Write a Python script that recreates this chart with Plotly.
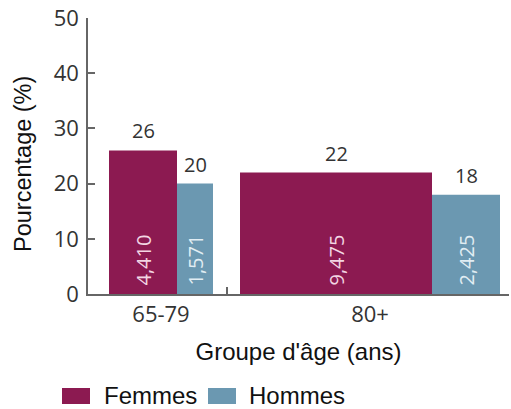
import plotly.graph_objects as go

# ---- data ----
groups = ["65-79", "80+"]
series = ["Femmes", "Hommes"]
femmes_pct = [26, 22]
hommes_pct = [20, 18]
femmes_n = ["4,410", "9,475"]
hommes_n = ["1,571", "2,425"]

# ---- layout / style (x axis units = plot pixels) ----
W, H = 511, 409
ML, MR, MT, MB = 88, 2, 18, 115
lead_gap = 21
group_gap = 27
femmes_w = [68, 192]
hommes_w = [36, 68]
x_end = W - ML - MR

col_f = "#8c1a51"
col_h = "#6b98b1"
txt_f = "#f3d6e3"
txt_h = "#e1edf3"
axis_col = "#666666"
txt_col = "#333333"
dark = "#111111"
arial = "Liberation Sans, Arial"
humanist = "Open Sans"

pw, ph = W - ML - MR, H - MT - MB


def px_x(p):
    return (p - ML) / pw


def px_y(p):
    return (H - MB - p) / ph


# bar positions from widths
f_x, h_x, g_x, dividers = [], [], [], []
cur = lead_gap
for fw, hw in zip(femmes_w, hommes_w):
    f_x.append(cur + fw / 2)
    h_x.append(cur + fw + hw / 2)
    g_x.append(cur + (fw + hw) / 2)
    cur += fw + hw
    dividers.append(cur + group_gap / 2)
    cur += group_gap
dividers = dividers[:-1]

fig = go.Figure()
fig.add_trace(go.Bar(name=series[0], x=f_x, y=femmes_pct, width=femmes_w,
                     marker=dict(color=col_f, line=dict(width=0)),
                     showlegend=False))
fig.add_trace(go.Bar(name=series[1], x=h_x, y=hommes_pct, width=hommes_w,
                     marker=dict(color=col_h, line=dict(width=0)),
                     showlegend=False))

annotations = []
# percentage labels above bars
for xs, vals in ((f_x, femmes_pct), (h_x, hommes_pct)):
    for x, v in zip(xs, vals):
        annotations.append(dict(x=x, y=v, xref="x", yref="y", text=str(v),
                                showarrow=False, yanchor="bottom", yshift=4,
                                font=dict(family=humanist, size=20, color=txt_col)))
# counts inside bars (rotated)
for xs, ns, c in ((f_x, femmes_n, txt_f), (h_x, hommes_n, txt_h)):
    for x, n in zip(xs, ns):
        annotations.append(dict(x=x, y=0, xref="x", yref="y", text=n,
                                showarrow=False, textangle=-90,
                                yanchor="bottom", yshift=6,
                                font=dict(family=humanist, size=20, color=c)))
# y axis title
annotations.append(dict(x=px_x(23), y=px_y(164), xref="paper", yref="paper",
                        text="Pourcentage (%)", textangle=-90, showarrow=False,
                        xanchor="center", yanchor="middle",
                        font=dict(family=arial, size=23.5, color=dark)))

# custom legend
shapes = []
legend_items = [(series[0], col_f, 62, 102), (series[1], col_h, 208, 247)]
leg_y = 396
for name, col, bx, tx in legend_items:
    shapes.append(dict(type="rect", xref="paper", yref="paper",
                       x0=px_x(bx), x1=px_x(bx + 28), y0=px_y(leg_y + 8), y1=px_y(leg_y - 8),
                       fillcolor=col, line=dict(width=0)))
    annotations.append(dict(x=px_x(tx), y=px_y(leg_y), xref="paper", yref="paper",
                            text=name, showarrow=False, xanchor="left", yanchor="middle",
                            font=dict(family=arial, size=24, color=dark)))

fig.update_layout(
    width=W, height=H,
    margin=dict(l=ML, r=MR, t=MT, b=MB),
    paper_bgcolor="white", plot_bgcolor="white",
    barmode="overlay",
    showlegend=False,
    annotations=annotations,
    shapes=shapes,
    xaxis=dict(
        range=[0, x_end], showgrid=False, zeroline=False,
        showline=True, linecolor=axis_col, linewidth=1.5,
        tickmode="array", tickvals=g_x, ticktext=groups, ticks="",
        tickfont=dict(family=humanist, size=22, color=txt_col),
        minor=dict(tickmode="array", tickvals=dividers, ticks="inside",
                   ticklen=7, tickcolor=axis_col, tickwidth=1.5, showgrid=False),
        title=dict(text="Groupe d'âge (ans)", standoff=16,
                   font=dict(family=arial, size=24, color=dark)),
    ),
    yaxis=dict(
        range=[0, 50], dtick=10, showgrid=False, zeroline=False,
        showline=True, linecolor=axis_col, linewidth=1.5,
        ticks="inside", ticklen=7, tickcolor=axis_col, tickwidth=1.5,
        tickfont=dict(family=humanist, size=22, color=txt_col),
        ticklabelstandoff=3,
    ),
)

fig.write_html("out.html")
